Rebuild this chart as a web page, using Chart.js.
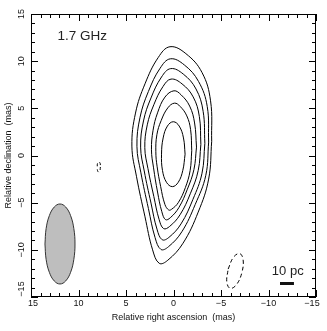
<!DOCTYPE html>
<html>
<head>
<meta charset="utf-8">
<script src="https://cdn.jsdelivr.net/npm/chart.js@4"></script>
<style>
  html, body { margin: 0; padding: 0; background: #fff; }
  #wrap { width: 327px; height: 331px; }
</style>
</head>
<body>
<div id="wrap"><canvas id="map"></canvas></div>
<script>
// contour levels, outermost first: [RA offset, Dec offset] in mas
const level_1 = [[0.37, 11.53], [-1.3, 10.8], [-3.0, 8.8], [-3.9, 5.8], [-4.02, 1.5], [-3.7, -2.5], [-2.6, -6.0], [-1.0, -9.3], [0.6, -11.1], [1.5, -11.43], [2.2, -10.0], [3.0, -6.5], [3.9, -2.2], [4.38, 1.0], [4.0, 4.5], [3.0, 7.6], [1.6, 10.4]];
const level_2 = [[0.33, 10.25], [-1.14, 9.6], [-2.64, 7.84], [-3.55, 5.2], [-3.7, 1.42], [-3.4, -2.1], [-2.29, -5.18], [-0.88, -8.08], [0.53, -9.67], [1.32, -9.96], [1.94, -8.7], [2.64, -5.62], [3.43, -1.84], [3.85, 0.98], [3.52, 4.06], [2.64, 6.79], [1.41, 9.25]];
const level_3 = [[0.29, 9.21], [-1.03, 8.63], [-2.37, 7.05], [-3.12, 4.68], [-3.3, 1.29], [-3.0, -1.88], [-2.05, -4.64], [-0.79, -7.25], [0.47, -8.67], [1.19, -8.93], [1.74, -7.8], [2.37, -5.04], [3.08, -1.64], [3.46, 0.89], [3.16, 3.66], [2.37, 6.1], [1.26, 8.32]];
const level_4 = [[0.26, 8.1], [-0.9, 7.59], [-2.07, 6.21], [-2.72, 4.14], [-2.88, 1.18], [-2.6, -1.59], [-1.79, -4.0], [-0.69, -6.28], [0.41, -7.52], [1.04, -7.75], [1.52, -6.76], [2.07, -4.35], [2.69, -1.38], [3.02, 0.83], [2.76, 3.25], [2.07, 5.38], [1.1, 7.32]];
const level_5 = [[-0.05, 6.86], [-0.8, 6.43], [-1.7, 5.24], [-2.22, 3.45], [-2.42, 0.89], [-2.15, -1.49], [-1.46, -3.57], [-0.56, -5.53], [0.34, -6.6], [0.84, -6.8], [1.23, -5.95], [1.68, -3.87], [2.1, -1.31], [2.32, 0.6], [2.15, 2.68], [1.68, 4.52], [0.9, 6.19]];
const level_6 = [[-0.1, 5.55], [-0.7, 5.2], [-1.4, 4.2], [-1.8, 2.74], [-1.92, 0.5], [-1.75, -1.6], [-1.25, -3.4], [-0.5, -5.0], [0.2, -5.7], [0.5, -5.78], [0.9, -5.2], [1.35, -3.3], [1.72, -1.2], [1.86, 0.4], [1.75, 2.2], [1.3, 3.7], [0.6, 5.05]];
const level_7 = [[0.02, 3.58], [-0.6, 3.12], [-1.05, 1.86], [-1.22, 0.14], [-0.98, -1.58], [-0.5, -2.84], [0.12, -3.3], [0.74, -2.84], [1.16, -1.58], [1.26, 0.14], [1.09, 1.86], [0.64, 3.12]];

// negative (dashed) contours
const neg_east = [[7.86, -0.67], [7.72, -0.83], [7.7, -1.22], [7.74, -1.6], [7.86, -1.77], [8.0, -1.6], [8.02, -1.22], [8.0, -0.83]];
const neg_west = [[-5.75, -12.04], [-6.31, -10.79], [-6.97, -10.39], [-7.33, -11.07], [-7.19, -12.44], [-6.63, -13.69], [-5.97, -14.09], [-5.61, -13.41]];

// restoring beam
const beam = [[13.53, -9.38], [13.41, -7.76], [13.07, -6.38], [12.55, -5.46], [11.95, -5.14], [11.35, -5.46], [10.83, -6.38], [10.49, -7.76], [10.37, -9.38], [10.49, -11.0], [10.83, -12.38], [11.35, -13.3], [11.95, -13.62], [12.55, -13.3], [13.07, -12.38], [13.41, -11.0]];

// 10 pc linear scale bar
const scale_bar = [[-11.21, -13.57], [-12.68, -13.57]];

const major_ticks = [15, 10, 5, 0, -5, -10, -15];
const tick_labels = ["15", "10", "5", "0", "\u22125", "\u221210", "\u221215"];

// close a ring, starting on a flat side so the join doesn't show
const closed = (pts, start = 0) => {
    const ring = pts.slice(start).concat(pts.slice(0, start));
    return ring.concat([ring[0]]).map(p => ({ x: p[0], y: p[1] }));
};

function contour(pts, start, dash) {
    return {
        data: closed(pts, start),
        showLine: true,
        borderColor: "#000",
        borderWidth: 1,
        borderDash: dash || [],
        pointRadius: 0,
        tension: 0.4,
        fill: false
    };
}

const datasets = [
    {
        data: closed(beam),
        showLine: true,
        borderColor: "#333",
        borderWidth: 1,
        backgroundColor: "#bebebe",
        pointRadius: 0,
        tension: 0.4,
        fill: "shape"
    },
    contour(level_1, 4), contour(level_2, 4), contour(level_3, 4), contour(level_4, 4),
    contour(level_5, 4), contour(level_6, 4), contour(level_7, 3),
    contour(neg_east, 2, [3, 3]),
    contour(neg_west, 0, [4, 3]),
    {
        data: scale_bar.map(p => ({ x: p[0], y: p[1] })),
        showLine: true,
        borderColor: "#111",
        borderWidth: 3,
        borderCapStyle: "butt",
        pointRadius: 0
    }
];

// frame, inward ticks on all sides, labels
const framePlugin = {
    id: "frame",
    afterDraw(chart) {
        const c = chart.ctx;
        const a = chart.chartArea;
        const xs = chart.scales.x, ys = chart.scales.y;
        c.save();
        c.strokeStyle = "#000";
        c.lineWidth = 1;
        c.strokeRect(Math.round(a.left) + 0.5, Math.round(a.top) + 0.5,
            Math.round(a.right - a.left) - 1, Math.round(a.bottom - a.top) - 1);

        c.beginPath();
        for (let v = -15; v <= 15; v++) {
            const len = v % 5 === 0 ? 7 : 4;
            const px = Math.round(xs.getPixelForValue(v)) + 0.5;
            c.moveTo(px, a.bottom); c.lineTo(px, a.bottom - len);
            c.moveTo(px, a.top); c.lineTo(px, a.top + len);
            const py = Math.round(ys.getPixelForValue(v)) + 0.5;
            c.moveTo(a.left, py); c.lineTo(a.left + len, py);
            c.moveTo(a.right, py); c.lineTo(a.right - len, py);
        }
        c.stroke();

        c.fillStyle = "#111";
        c.font = '9px "Liberation Sans"';
        c.textAlign = "center";
        c.textBaseline = "middle";
        major_ticks.forEach((v, i) => {
            let px = xs.getPixelForValue(v);
            if (v === 15) px += 2;
            if (v === -15) px -= 4;
            c.fillText(tick_labels[i], px, a.bottom + 7);
        });
        major_ticks.forEach((v, i) => {
            let py = ys.getPixelForValue(v);
            if (v === -15) py -= 8;
            c.save();
            c.translate(a.left - 9, py);
            c.rotate(-Math.PI / 2);
            c.fillText(tick_labels[i], 0, 0);
            c.restore();
        });

        c.font = '9px "Liberation Sans"';
        c.fillText("Relative right ascension  (mas)", (a.left + a.right) / 2, a.bottom + 21);
        c.save();
        c.translate(8.5, (a.top + a.bottom) / 2);
        c.rotate(-Math.PI / 2);
        c.fillText("Relative declination  (mas)", 0, 0);
        c.restore();

        c.fillStyle = "#222";
        c.font = '13.5px "Liberation Sans"';
        c.textAlign = "left";
        c.textBaseline = "alphabetic";
        c.fillText("1.7 GHz", xs.getPixelForValue(12.2), ys.getPixelForValue(12.2));
        c.font = '13px "Liberation Sans"';
        c.fillText("10 pc", xs.getPixelForValue(-10.35), ys.getPixelForValue(-12.7));
        c.restore();
    }
};

new Chart(document.getElementById("map"), {
    type: "scatter",
    data: { datasets: datasets },
    options: {
        responsive: true,
        maintainAspectRatio: false,
        animation: false,
        layout: { padding: { left: 31, right: 11, top: 14, bottom: 34 } },
        plugins: { legend: { display: false }, tooltip: { enabled: false } },
        scales: {
            x: { display: false, min: -15, max: 15, reverse: true },
            y: { display: false, min: -15, max: 15 }
        }
    },
    plugins: [framePlugin]
});
</script>
</body>
</html>
